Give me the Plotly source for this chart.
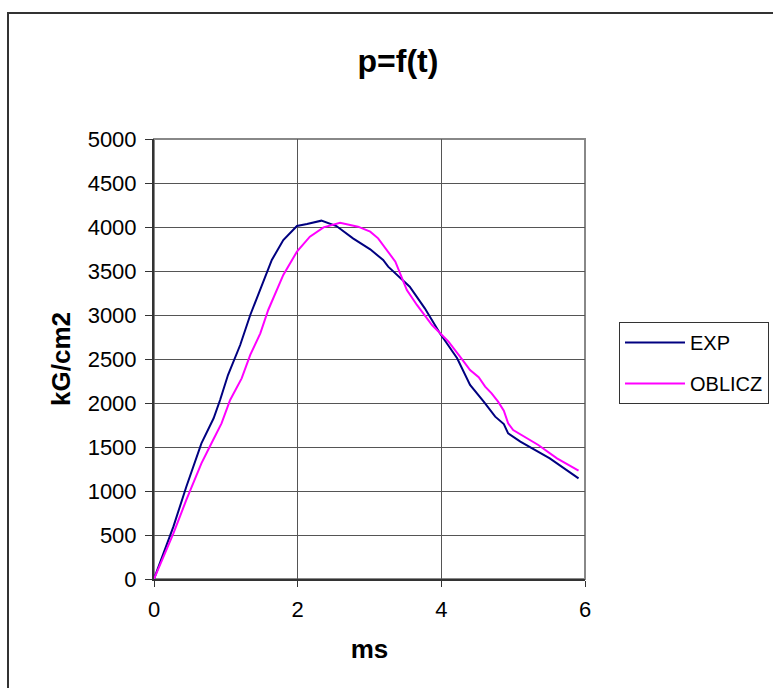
import plotly.graph_objects as go

# Data
exp_t = [0, 0.13, 0.27, 0.45, 0.66, 0.83, 0.92, 1.03, 1.20, 1.34, 1.48, 1.64, 1.80,
         1.99, 2.13, 2.33, 2.54, 2.77, 3.01, 3.19, 3.26, 3.56, 3.77, 3.98, 4.22,
         4.40, 4.59, 4.75, 4.87, 4.93, 5.10, 5.51, 5.91]
exp_p = [0, 292, 595, 1049, 1542, 1826, 2034, 2318, 2659, 3000, 3284, 3625, 3852,
         4011, 4034, 4072, 4011, 3871, 3746, 3625, 3549, 3322, 3076, 2792, 2508,
         2205, 2015, 1845, 1761, 1655, 1561, 1371, 1144]

obl_t = [0, 0.27, 0.45, 0.66, 0.80, 0.94, 1.06, 1.22, 1.34, 1.48, 1.59, 1.71, 1.80,
         1.99, 2.17, 2.36, 2.59, 2.84, 3.01, 3.12, 3.36, 3.52, 3.66, 3.87, 4.10,
         4.26, 4.40, 4.52, 4.61, 4.70, 4.79, 4.87, 4.93, 5.00, 5.35, 5.61, 5.91]
obl_p = [0, 519, 898, 1314, 1542, 1769, 2034, 2280, 2546, 2792, 3057, 3284, 3455,
         3720, 3890, 3996, 4049, 4004, 3947, 3871, 3606, 3284, 3114, 2886, 2697,
         2527, 2375, 2292, 2186, 2110, 2015, 1913, 1769, 1693, 1523, 1371, 1231]

x_ticks = [0, 2, 4, 6]
y_ticks = list(range(0, 5001, 500))

title_text = "p=f(t)"
x_title = "ms"
y_title = "kG/cm2"

W, H = 773, 688
L, R, T, B = 154, 188, 139, 109
pw, ph = W - L - R, H - T - B

def px(x):
    return (x - L) / pw

def py(y):
    return (H - B - y) / ph

FONT = "Liberation Sans, Arial, sans-serif"

fig = go.Figure()
fig.add_trace(go.Scatter(x=exp_t, y=exp_p, mode="lines", name="EXP",
                         line=dict(color="#000080", width=2), legendgroup="a"))
fig.add_trace(go.Scatter(x=obl_t, y=obl_p, mode="lines", name="OBLICZ",
                         line=dict(color="#FF00FF", width=2), legendgroup="b"))

fig.update_layout(
    width=W, height=H,
    margin=dict(l=L, r=R, t=T, b=B, autoexpand=False),
    paper_bgcolor="white", plot_bgcolor="white",
    font=dict(family=FONT, color="black", size=22),
    title=dict(text="<b>" + title_text + "</b>", x=px(398), xref="paper", xanchor="center",
               y=1 - 61 / H, yanchor="middle", font=dict(size=32)),
    showlegend=True,
    legend=dict(x=px(619), y=py(322), xanchor="left", yanchor="top",
                bordercolor="#333333", borderwidth=1, bgcolor="white",
                font=dict(size=20), traceorder="grouped", tracegroupgap=12,
                itemwidth=60),
    xaxis=dict(range=[0, 6], tickvals=x_ticks, ticks="outside", ticklen=6,
               tickcolor="#333333", showgrid=True, gridcolor="#555555", gridwidth=1,
               showline=True, linecolor="#333333", linewidth=2, zeroline=False,
               title=dict(text="<b>" + x_title + "</b>", font=dict(size=26), standoff=18),
               ticklabelstandoff=4),
    yaxis=dict(range=[0, 5000], tickvals=y_ticks, ticks="outside", ticklen=7,
               tickcolor="#333333", showgrid=True, gridcolor="#555555", gridwidth=1,
               showline=True, linecolor="#333333", linewidth=2, zeroline=False,
               title=dict(text="<b>" + y_title + "</b>", font=dict(size=26), standoff=10),
               ticklabelstandoff=4),
    shapes=[
        # plot area border (top/right)
        dict(type="rect", xref="paper", yref="paper", x0=0, y0=0, x1=1, y1=1,
             line=dict(color="#888888", width=2), layer="below"),
        # outer chart border
        dict(type="rect", xref="paper", yref="paper",
             x0=px(8), y0=py(H + 20), x1=px(W + 20), y1=py(13),
             line=dict(color="#333333", width=2), layer="below"),
    ],
)

fig.write_html("out.html")
